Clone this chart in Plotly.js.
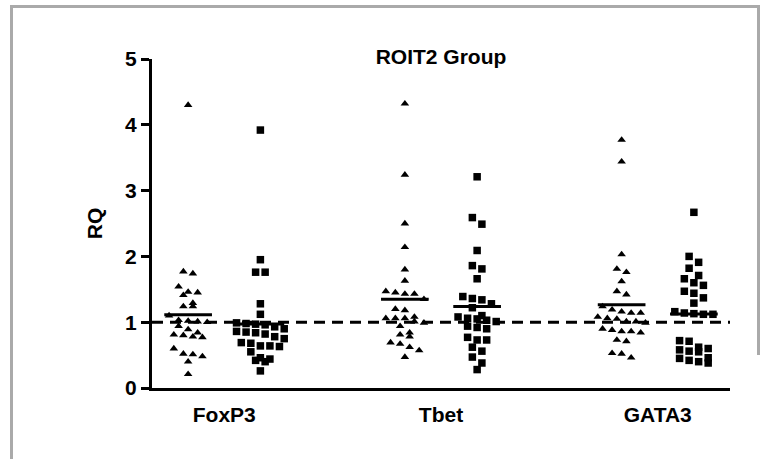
<!DOCTYPE html>
<html>
<head>
<meta charset="utf-8">
<script src="https://cdn.plot.ly/plotly-3.0.1.min.js"></script>
<style>
  html, body { margin: 0; padding: 0; background: #fff; }
  #chart { position: absolute; left: 0; top: 0; width: 771px; height: 459px; }
  #frameTop { position: absolute; left: 10px; top: 5px; width: 750px; height: 3px; background: #aaaaaa; z-index: 5; }
  #frameLeft { position: absolute; left: 10px; top: 5px; width: 3px; height: 454px; background: #aaaaaa; z-index: 5; }
  #frameRight { position: absolute; left: 757px; top: 5px; width: 3px; height: 350px; background: #aaaaaa; z-index: 5; }
</style>
</head>
<body>
<div id="chart"></div>
<div id="frameTop"></div>
<div id="frameLeft"></div>
<div id="frameRight"></div>
<script>
// ---- data ----
const genes = ['FoxP3', 'Tbet', 'GATA3'];
const foxp3Tri = [4.30, 1.77, 1.74, 1.54, 1.46, 1.45, 1.41, 1.29, 1.24, 1.24, 1.10, 1.03, 1.02, 1.01, 1.00, 0.94, 0.89, 0.84, 0.81, 0.80, 0.78, 0.77, 0.60, 0.52, 0.51, 0.48, 0.40, 0.21];
const foxp3Sq  = [3.92, 1.95, 1.76, 1.76, 1.28, 1.12, 0.99, 0.98, 0.97, 0.96, 0.93, 0.90, 0.86, 0.85, 0.84, 0.82, 0.78, 0.75, 0.69, 0.68, 0.64, 0.64, 0.63, 0.55, 0.46, 0.44, 0.42, 0.40, 0.26];
const tbetTri  = [4.32, 3.24, 2.50, 2.14, 1.80, 1.63, 1.47, 1.45, 1.43, 1.43, 1.35, 1.20, 1.18, 1.08, 1.06, 1.06, 1.06, 1.01, 0.99, 0.94, 0.84, 0.81, 0.78, 0.69, 0.67, 0.62, 0.57, 0.47];
const tbetSq   = [3.21, 2.59, 2.49, 2.09, 1.86, 1.81, 1.66, 1.39, 1.36, 1.34, 1.28, 1.22, 1.10, 1.08, 1.06, 1.05, 1.03, 1.01, 0.94, 0.92, 0.90, 0.77, 0.73, 0.73, 0.62, 0.56, 0.47, 0.38, 0.28];
const gata3Tri = [3.77, 3.44, 2.03, 1.81, 1.76, 1.62, 1.47, 1.42, 1.24, 1.19, 1.16, 1.14, 1.14, 1.08, 1.06, 1.05, 1.01, 1.01, 0.99, 0.90, 0.88, 0.86, 0.86, 0.84, 0.73, 0.71, 0.53, 0.52, 0.46];
const gata3Sq  = [2.67, 2.00, 1.91, 1.82, 1.71, 1.66, 1.60, 1.56, 1.47, 1.44, 1.37, 1.29, 1.16, 1.14, 1.13, 1.12, 1.12, 0.72, 0.71, 0.62, 0.60, 0.58, 0.56, 0.55, 0.46, 0.45, 0.42, 0.40, 0.38];
const refLevel = 1;
const yTicks = [0, 1, 2, 3, 4, 5];

// ---- layout helpers ----
const seriesList = [
  {vals: foxp3Tri, gene: 0, kind: 0},
  {vals: foxp3Sq,  gene: 0, kind: 1},
  {vals: tbetTri,  gene: 1, kind: 0},
  {vals: tbetSq,   gene: 1, kind: 1},
  {vals: gata3Tri, gene: 2, kind: 0},
  {vals: gata3Sq,  gene: 2, kind: 1}
];
const STEP = 0.132;   // horizontal spacing of points within a row (x units)
const BIN = 0.12;     // y span grouped into one row

function swarm(vals, center) {
  const s = vals.slice().sort((a, b) => b - a);
  const xs = [], ys = [];
  let i = 0;
  while (i < s.length) {
    let j = i;
    while (j < s.length && s[i] - s[j] <= BIN) j++;
    const n = j - i;
    for (let k = 0; k < n; k++) {
      xs.push(center + (k - (n - 1) / 2) * STEP);
      ys.push(s[i + k]);
    }
    i = j;
  }
  return {xs, ys};
}

const traces = [];
seriesList.forEach(sr => {
  const c = sr.gene * 3 + sr.kind;
  const sw = swarm(sr.vals, c);
  traces.push({
    type: 'scatter', mode: 'markers', x: sw.xs, y: sw.ys,
    marker: {symbol: sr.kind === 0 ? 'triangle-up' : 'square', size: 7.5, color: '#000', line: {width: 0}},
    hoverinfo: 'y', showlegend: false
  });
  const mean = sr.vals.reduce((a, b) => a + b, 0) / sr.vals.length;
  traces.push({
    type: 'scatter', mode: 'lines', x: [c - 0.33, c + 0.33], y: [mean, mean],
    line: {color: '#000', width: 3}, hoverinfo: 'skip', showlegend: false
  });
});

const font = {family: '"Liberation Sans", Arial, sans-serif', color: '#000'};

const layout = {
  width: 771, height: 459,
  paper_bgcolor: '#fff', plot_bgcolor: '#fff',
  margin: {l: 152, r: 41, t: 59, b: 71},
  showlegend: false,
  title: {
    text: '<b>ROIT2 Group</b>',
    font: Object.assign({size: 21}, font),
    x: 0.5, xref: 'paper', xanchor: 'center',
    y: 1 - 57 / 459, yref: 'container', yanchor: 'middle'
  },
  xaxis: {
    range: [-0.5, 7.5], fixedrange: true,
    tickvals: genes.map((g, i) => i * 3 + 0.5),
    ticktext: genes.map(g => '<b>' + g + '</b>'),
    tickfont: Object.assign({size: 21}, font),
    ticks: '', showline: true, linewidth: 3, linecolor: '#000',
    showgrid: false, zeroline: false, ticklabelstandoff: 6
  },
  yaxis: {
    range: [0, 5], fixedrange: true,
    tickvals: yTicks, ticktext: yTicks.map(v => '<b>' + v + '</b>'),
    tickfont: Object.assign({size: 21}, font),
    ticks: 'outside', ticklen: 8, tickwidth: 3, tickcolor: '#000',
    showline: true, linewidth: 3, linecolor: '#000',
    showgrid: false, zeroline: false,
    title: {text: '<b>RQ</b>', font: Object.assign({size: 21}, font), standoff: 17}
  },
  shapes: [{
    type: 'line', xref: 'paper', yref: 'y', x0: 0, x1: 1, y0: refLevel, y1: refLevel,
    line: {color: '#000', width: 3, dash: '11px,7px'}, layer: 'below'
  }]
};

Plotly.newPlot('chart', traces, layout, {staticPlot: true, displayModeBar: false});
</script>
</body>
</html>
